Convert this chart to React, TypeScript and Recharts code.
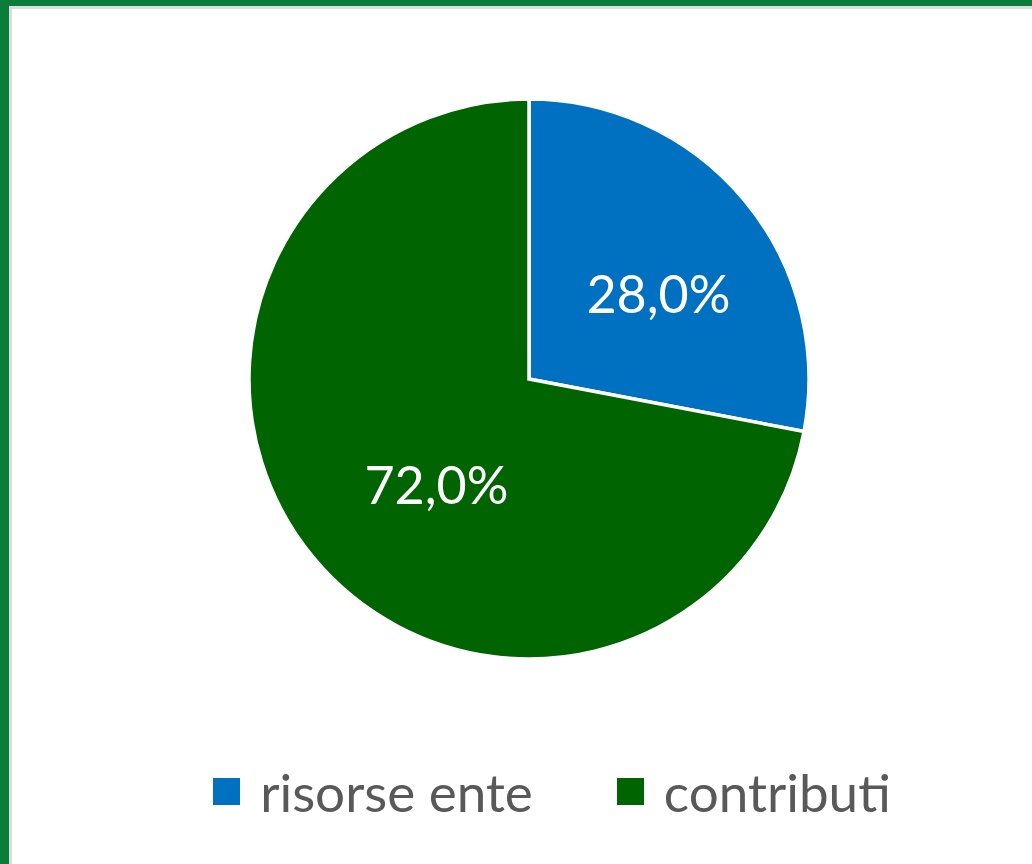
import { PieChart, Pie, Cell, Legend } from 'recharts'

const CATEGORIES = ['risorse ente', 'contributi']
const VALUES = [28, 72]
const COLORS = ['#0070C0', '#006400']

const data = CATEGORIES.map((name, i) => ({ name, value: VALUES[i] }))

const RAD = Math.PI / 180

// excel's best-fit label spots, as a tweak on radius / angle per slice
const LABEL_R = [0.555, 0.5]
const LABEL_NUDGE = [-6, 9]

function renderLabel(props: any) {
  const { cx, cy, midAngle, outerRadius, percent, index } = props
  const r = outerRadius * LABEL_R[index]
  const a = midAngle + LABEL_NUDGE[index]
  const x = cx + r * Math.cos(-a * RAD)
  const y = cy + r * Math.sin(-a * RAD)
  return (
    <text
      x={x}
      y={y}
      fill="#fff"
      fontSize={52}
      fontFamily="Lato, 'Open Sans', sans-serif"
      textAnchor="middle"
      dominantBaseline="central"
    >
      {(percent * 100).toFixed(1).replace('.', ',')}%
    </text>
  )
}

function LegendContent() {
  return (
    <div style={{ display: 'flex', justifyContent: 'center', gap: 84, fontFamily: "Lato, 'Open Sans', sans-serif" }}>
      {CATEGORIES.map((c, i) => (
        <span key={c} style={{ display: 'flex', alignItems: 'center', gap: 20, fontSize: 53, color: '#595959' }}>
          <span style={{ width: 27, height: 27, background: COLORS[i], display: 'inline-block' }} />
          {c}
        </span>
      ))}
    </div>
  )
}

export default function App() {
  return (
    <div style={{ position: 'fixed', left: 0, top: 0, width: 1032, height: 864, background: '#fff', overflow: 'hidden' }}>
      <div style={{ position: 'absolute', left: 0, top: 0, width: 1032, height: 6, background: '#0b7d3a' }} />
      <div style={{ position: 'absolute', left: 0, top: 0, width: 9, height: 864, background: '#0b7d3a' }} />
      <div style={{ position: 'absolute', left: 9, top: 6, width: 1023, height: 3, background: '#dcdcdc' }} />
      <div style={{ position: 'absolute', left: 9, top: 6, width: 3, height: 858, background: '#dcdcdc' }} />
      <div style={{ position: 'absolute', left: 0, top: 0 }}>
        <PieChart width={1032} height={864} margin={{ top: 0, right: 0, bottom: 0, left: 0 }}>
          <Pie
            data={data}
            dataKey="value"
            nameKey="name"
            cx={529}
            cy={379}
            outerRadius={280}
            startAngle={90}
            endAngle={-270}
            stroke="#fff"
            strokeWidth={3.5}
            label={renderLabel}
            labelLine={false}
            isAnimationActive={false}
          >
            {data.map((_, i) => (
              <Cell key={i} fill={COLORS[i]} />
            ))}
          </Pie>
          <Legend
            content={<LegendContent />}
            wrapperStyle={{ position: 'absolute', left: 0, top: 760, width: 1104 }}
          />
        </PieChart>
      </div>
    </div>
  )
}
